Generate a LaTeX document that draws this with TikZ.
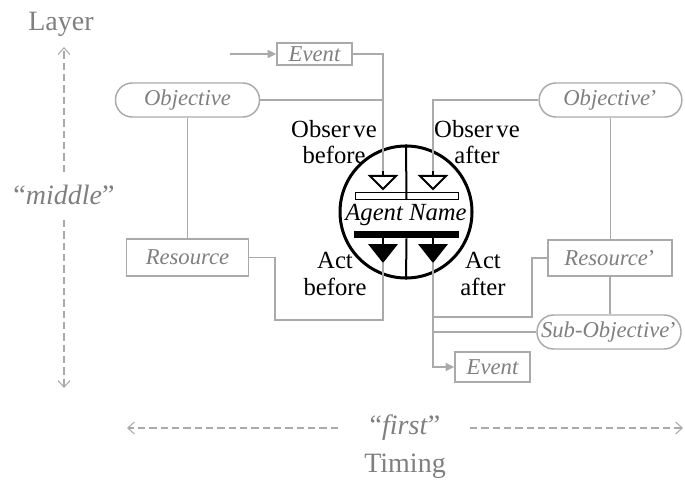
\documentclass[tikz,border=0pt]{standalone}
\usepackage{fontspec}
\setmainfont{Liberation Serif}
\usetikzlibrary{arrows.meta}
\definecolor{lineg}{HTML}{AAAAAA}
\definecolor{textg}{HTML}{7F7F7F}
\begin{document}
\begin{tikzpicture}[x=0.75pt,y=-0.75pt,
  wire/.style={draw=lineg,line width=1.1pt},
  feed/.style={wire,-{Triangle[length=6.5pt,width=6pt]}},
  lbl/.style={text=textg,font=\fontsize{17}{19}\selectfont\itshape,inner sep=0pt},
  gbox/.style={lbl,draw=lineg,line width=1.1pt},
  pill/.style={gbox,rounded corners=12.5pt,minimum width=108pt,minimum height=25.5pt},
  blk/.style={font=\fontsize{18.5}{20}\selectfont,align=center,inner sep=0pt},
  axisline/.style={draw=lineg,line width=0.8pt,dash pattern=on 5.5pt off 3pt,
    -{Straight Barb[length=5pt,width=9pt]}},
  axislbl/.style={text=textg,font=\fontsize{21}{24}\selectfont,inner sep=0pt},
  glyph/.style={draw=black,line width=1.5pt}]
\useasboundingbox (0,0) rectangle (685,481);

% ---- agent glyph ----
\node[circle,draw,line width=2.25pt,minimum size=99pt,inner sep=0pt] (agent) at (406,212) {};
\node[draw,line width=0.75pt,fill=white,minimum width=77.25pt,minimum height=5.25pt,inner sep=0pt]
  (obsbar) at (406.5,195.5) {};
\node[fill=black,minimum width=78.75pt,minimum height=5.25pt,inner sep=0pt]
  (actbar) at (406.5,234.5) {};
\node[font=\fontsize{18.5}{20}\selectfont\itshape,inner sep=0pt] (name) at (406,215) {Agent Name};
\draw[glyph] (agent.north) -- (obsbar.south);
\draw[glyph] (actbar.south) -- (agent.south);

% observation inlets (open) and action outlets (filled)
\coordinate (oL) at (383,176);
\coordinate (oR) at (433,176);
\coordinate (sL) at (383,171);
\coordinate (sR) at (433,171);
\coordinate (aL) at (383,263);
\coordinate (aR) at (433,263);
\draw[glyph,fill=white,line join=miter] (oL) ++(-13,0) -- ++(26,0) -- ++(-13,13) -- cycle;
\draw[glyph,fill=white,line join=miter] (oR) ++(-13,0) -- ++(26,0) -- ++(-13,13) -- cycle;
\draw[glyph] (sL) -- (oL);
\draw[glyph] (sR) -- (oR);
\fill (aL) ++(-15,-19) -- ++(30,0) -- (aL) -- cycle;
\fill (aR) ++(-15,-19) -- ++(30,0) -- (aR) -- cycle;
\draw[glyph] (actbar.south -| aL) -- ++(0,6);
\draw[glyph] (actbar.south -| aR) -- ++(0,6);

% ---- labels round the glyph ----
\node[blk] (obb) at (334,142) {Obser\kern2.5pt ve\\before};
\node[blk] (oba) at (477,142) {Obser\kern2.5pt ve\\after};
\node[blk] (acb) at (335,274) {Act\\before};
\node[blk] (aca) at (483,274) {Act\\after};

% ---- left side ----
\coordinate (evsrc) at (230,54);
\node[gbox,minimum width=56.25pt,minimum height=16.5pt] (evt) at (314.5,54) {Event};
\node[pill] (obj) at (187.5,100) {Objective};
\node[gbox,minimum width=91.5pt,minimum height=27.75pt] (res) at (187.5,257.5) {Resource};
\coordinate (bendL) at (275,320);

\draw[feed] (evsrc) -- (evt.west);
\draw[wire] (evt.east) -| (sL);
\draw[wire] (obj.east) -- (obj.east -| sL);
\draw[wire] (obj.south) -- (res.north);
\draw[wire] (res.east) -| (bendL) -| (aL);

% ---- right side ----
\node[pill,minimum width=107pt] (objp) at (610.5,100) {Objective\upshape’};
\node[gbox,minimum width=93pt,minimum height=27pt] (resp) at (610,258) {Resource\upshape’};
\node[pill] (subp) at (609,332) {Sub-Objective\upshape’};
\node[gbox,minimum width=56.25pt,minimum height=22.5pt] (evb) at (492.5,367) {Event};
\coordinate (bendR) at (532,317);

\draw[wire] (objp.west) -| (sR);
\draw[wire] (objp.south) -- (objp.south |- resp.north);
\draw[wire] (resp.south) -- (resp.south |- subp.north);
\draw[wire] (resp.west) -| (bendR) -- (bendR -| aR);
\draw[wire] (subp.west) -- (subp.west -| aR);
\draw[feed] (aR) |- (evb.west);

% ---- axes ----
\node[axislbl,anchor=base] (layer) at (61,31) {Layer};
\node[axislbl] (middle) at (64,195) {“\textit{middle}”};
\coordinate (vtop) at (64,47);
\coordinate (vup) at (64,172);
\coordinate (vdn) at (64,220);
\coordinate (vbot) at (64,388);
\draw[axisline] (vup) -- (vtop);
\draw[axisline] (vdn) -- (vbot);

\node[axislbl] (first) at (405,428) {“\textit{first}”};
\node[axislbl,anchor=base] (timing) at (405,472) {Timing};
\coordinate (hl) at (127,428);
\coordinate (hlin) at (338,428);
\coordinate (hrin) at (470,428);
\coordinate (hr) at (683,428);
\draw[axisline] (hlin) -- (hl);
\draw[axisline] (hrin) -- (hr);
\end{tikzpicture}
\end{document}
